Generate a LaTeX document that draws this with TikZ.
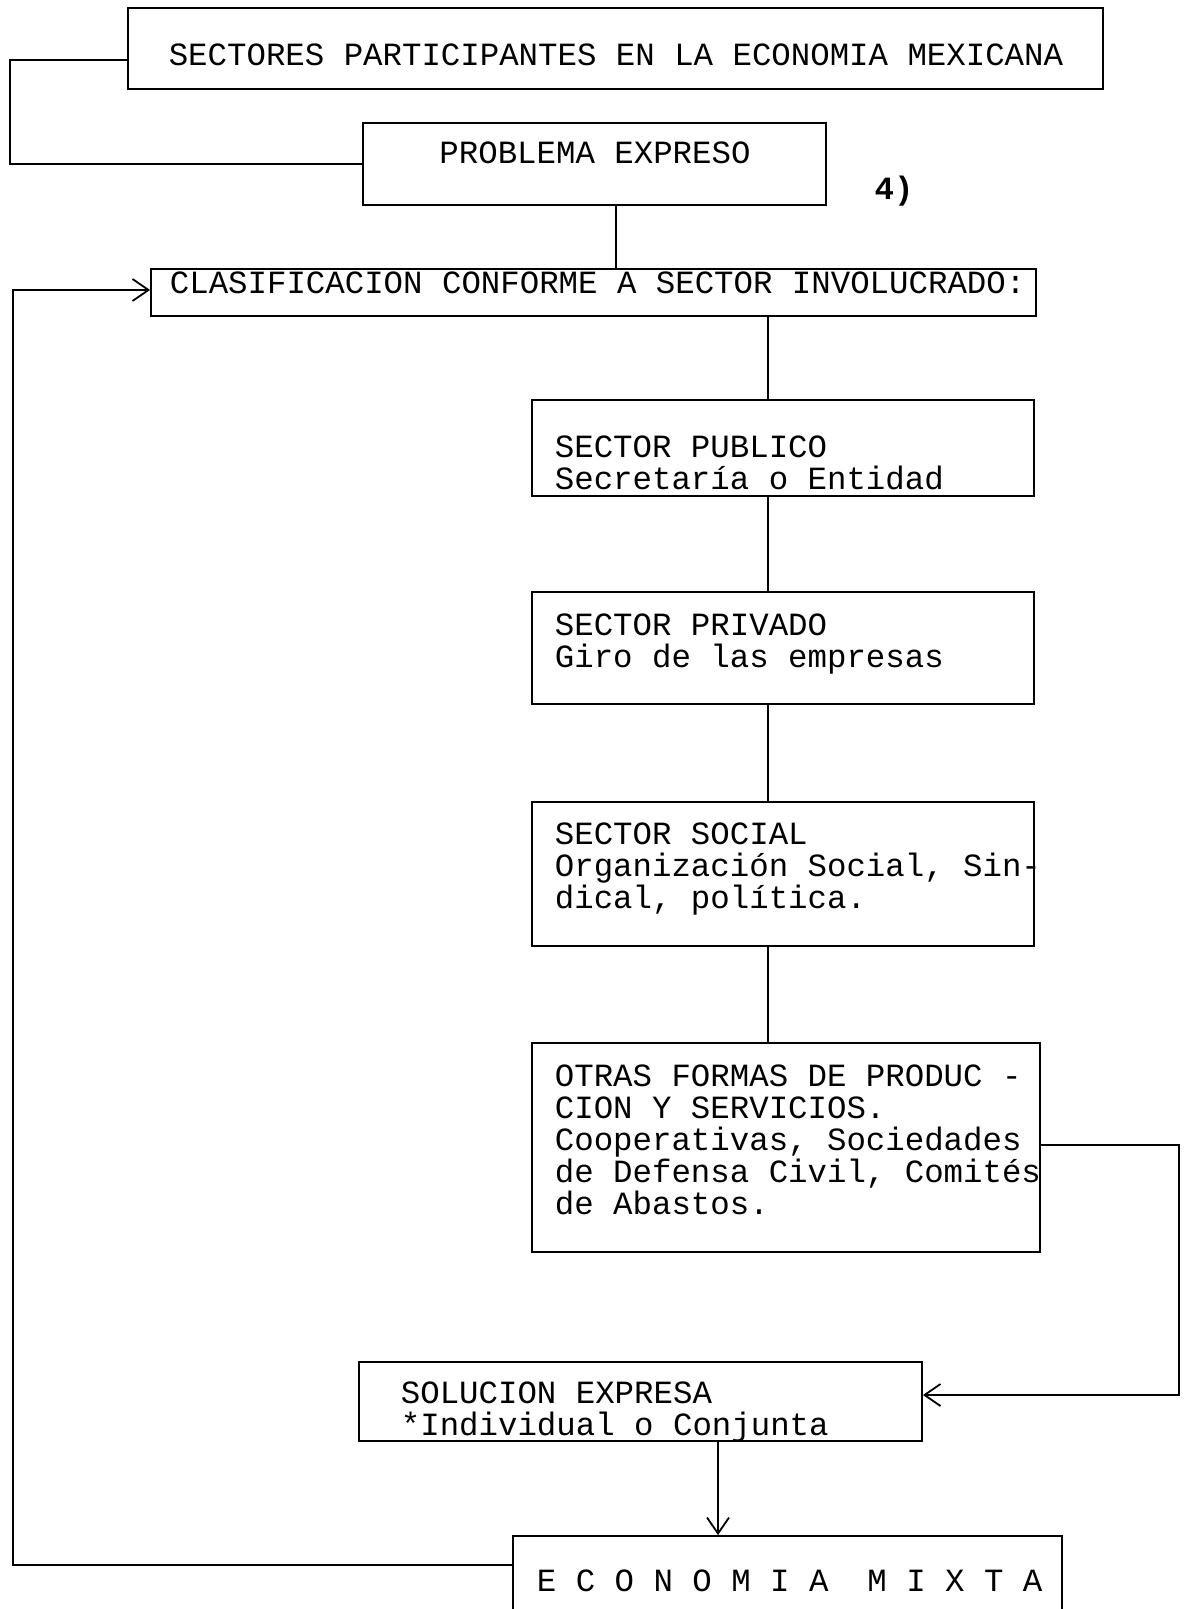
\documentclass[tikz,border=0pt]{standalone}
\usepackage{fontspec}
\setmonofont{Liberation Mono}
\usetikzlibrary{arrows.meta}

\tikzset{
  caja/.style={draw, line width=0.9pt, inner sep=0pt},
  texto/.style={font=\ttfamily\fontsize{16.2pt}{16pt}\selectfont, inner sep=0pt, align=left, anchor=base west},
  flecha/.style={-{Straight Barb[length=8pt,width=11pt]}}
}

\begin{document}
\begin{tikzpicture}[x=0.5pt, y=-0.5pt, line width=0.9pt]
  \useasboundingbox (0,0) rectangle (1183,1609);
  % cajas
  \node[caja, minimum width=487.5pt, minimum height=40.5pt] (top) at (615.5,48.5) {};
  \node[caja, minimum width=231.5pt, minimum height=41pt] (prob) at (594.5,164) {};
  \node[caja, minimum width=442.5pt, minimum height=23.5pt] (clas) at (593.5,292.5) {};
  \node[caja, minimum width=251pt, minimum height=48pt] (pub) at (783,448) {};
  \node[caja, minimum width=251pt, minimum height=56pt] (priv) at (783,648) {};
  \node[caja, minimum width=251pt, minimum height=72pt] (soc) at (783,874) {};
  \node[caja, minimum width=254pt, minimum height=104.5pt] (otras) at (786,1147.5) {};
  \node[caja, minimum width=281.5pt, minimum height=39.5pt] (sol) at (640.5,1401.5) {};
  \node[caja, minimum width=274.5pt, minimum height=52pt] (eco) at (787.5,1588) {};
  % textos (base = ultima linea)
  \node[texto, anchor=base] (ttop) at (616,66) {SECTORES PARTICIPANTES EN LA ECONOMIA MEXICANA};
  \node[texto, anchor=base] (tprob) at (595,164) {PROBLEMA EXPRESO};
  \node[texto, anchor=base, font=\ttfamily\bfseries\fontsize{16.2pt}{16pt}\selectfont] (num) at (894,200) {4)};
  \node[texto] (tclas) at (169,294) {CLASIFICACION CONFORME A SECTOR INVOLUCRADO:};
  \node[texto] (tpub) at (554,489) {SECTOR PUBLICO\\Secretaría o Entidad};
  \node[texto] (tpriv) at (554,667) {SECTOR PRIVADO\\Giro de las empresas};
  \node[texto] (tsoc) at (554,908) {SECTOR SOCIAL\\Organización Social, Sin-\\dical, política.};
  \node[texto] (totras) at (554,1214) {OTRAS FORMAS DE PRODUC -\\CION Y SERVICIOS.\\Cooperativas, Sociedades\\de Defensa Civil, Comités\\de Abastos.};
  \node[texto] (tsol) at (400,1435) {SOLUCION EXPRESA\\*Individual o Conjunta};
  \node[texto] (teco) at (536,1591) {E C O N O M I A\ \ M I X T A};
  % conectores
  \coordinate (tbend) at (10,60);
  \coordinate (pspine) at (616,0);
  \coordinate (spine) at (768,0);
  \coordinate (bspine) at (718,0);
  \coordinate (lbot) at (13,1565);
  \coordinate (ltop) at (13,290);
  \coordinate (rtop) at (1179,1145);
  \coordinate (rbot) at (1179,1395);
  \draw (top.west |- tbend) -- (tbend) |- (prob.west);
  \draw (prob.south -| pspine) -- (clas.north -| pspine);
  \draw (clas.south -| spine) -- (pub.north -| spine);
  \draw (pub.south -| spine) -- (priv.north -| spine);
  \draw (priv.south -| spine) -- (soc.north -| spine);
  \draw (soc.south -| spine) -- (otras.north -| spine);
  \draw[flecha] (eco.west |- lbot) -- (lbot) -- (ltop) -- (clas.west |- ltop);
  \draw[flecha] (otras.east |- rtop) -- (rtop) -- (rbot) -- (sol.east |- rbot);
  \draw[flecha] (sol.south -| bspine) -- (eco.north -| bspine);
\end{tikzpicture}
\end{document}
